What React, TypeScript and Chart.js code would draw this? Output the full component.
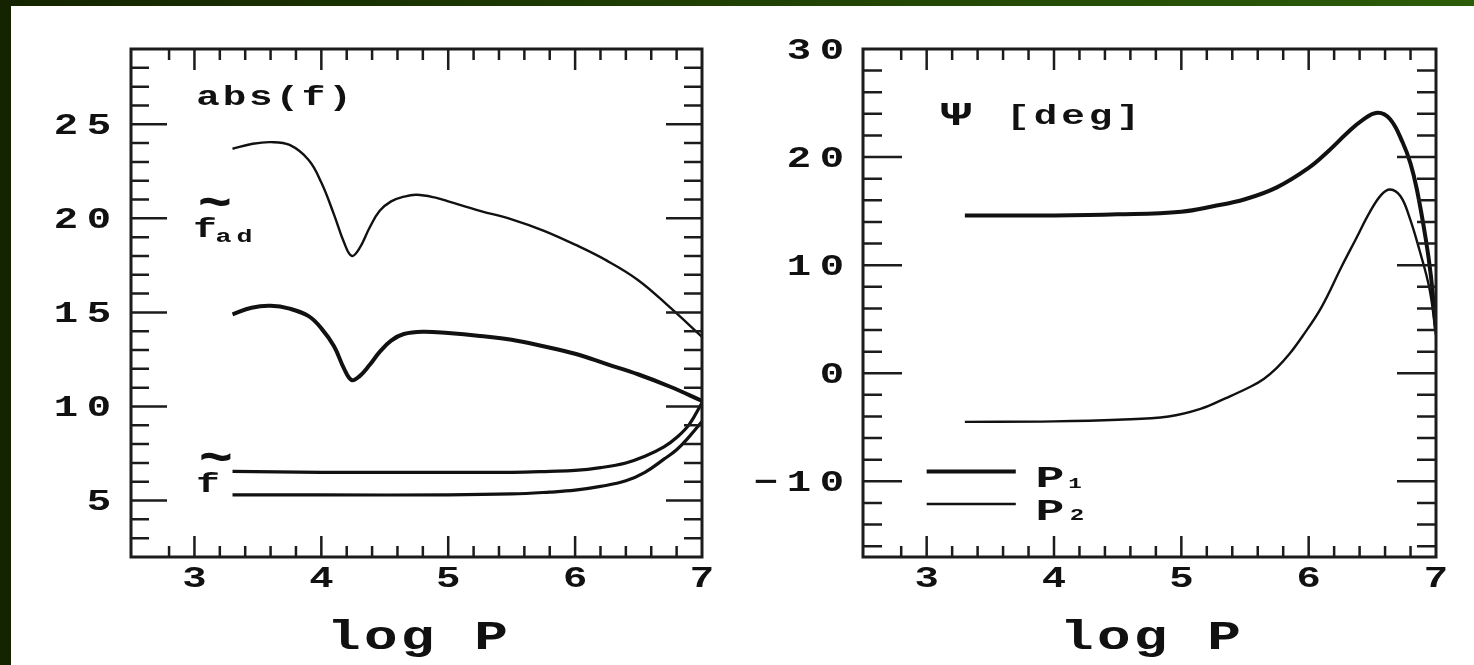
import React, { useEffect, useRef } from "react";
import { Chart, registerables } from "chart.js";
Chart.register(...registerables);

// ---------- Left panel: abs(f) versus log P ----------
const fAdLogP = [3.3, 3.45, 3.6, 3.75, 3.9, 4.0, 4.1, 4.18, 4.24, 4.3, 4.38, 4.46, 4.55, 4.65, 4.75, 4.9, 5.0, 5.25, 5.5, 5.75, 6.0, 6.25, 6.5, 6.75, 7.0];
const fAdValues = [23.7, 23.95, 24.05, 23.9, 23.1, 21.9, 20.2, 18.7, 18.0, 18.4, 19.5, 20.4, 20.9, 21.15, 21.25, 21.1, 20.9, 20.4, 19.95, 19.35, 18.6, 17.75, 16.7, 15.25, 13.7];
const fLogP = [3.3, 3.45, 3.6, 3.75, 3.9, 4.0, 4.1, 4.18, 4.24, 4.3, 4.38, 4.46, 4.55, 4.65, 4.8, 5.0, 5.25, 5.5, 5.75, 6.0, 6.25, 6.5, 6.75, 7.0];
const fValues = [14.9, 15.25, 15.35, 15.2, 14.8, 14.15, 13.2, 12.0, 11.4, 11.6, 12.2, 12.9, 13.5, 13.85, 13.97, 13.9, 13.75, 13.55, 13.2, 12.8, 12.25, 11.7, 11.05, 10.3];
const tildeLogP = [3.3, 4.0, 5.0, 5.5, 5.8, 6.0, 6.2, 6.4, 6.55, 6.7, 6.8, 6.9, 7.0];
const tildeUpper = [6.55, 6.5, 6.5, 6.5, 6.55, 6.6, 6.75, 7.0, 7.35, 7.85, 8.35, 9.05, 10.2];
const tildeLower = [5.3, 5.3, 5.3, 5.35, 5.45, 5.55, 5.75, 6.05, 6.5, 7.2, 7.7, 8.4, 9.2];

// ---------- Right panel: Psi [deg] versus log P ----------
const p1LogP = [3.3, 4.0, 4.5, 5.0, 5.25, 5.5, 5.75, 6.0, 6.15, 6.3, 6.42, 6.54, 6.64, 6.74, 6.8, 6.85, 6.92, 6.96, 7.0];
const p1Values = [14.6, 14.6, 14.7, 14.95, 15.45, 16.1, 17.2, 19.0, 20.5, 22.2, 23.4, 24.1, 23.5, 21.3, 19.4, 17.0, 12.4, 9.0, 4.0];
const p2LogP = [3.3, 4.0, 4.5, 4.9, 5.15, 5.35, 5.55, 5.65, 5.75, 5.85, 5.95, 6.1, 6.26, 6.37, 6.48, 6.57, 6.64, 6.72, 6.79, 6.87, 6.95, 7.0];
const p2Values = [-4.5, -4.45, -4.3, -4.0, -3.3, -2.3, -1.2, -0.5, 0.5, 1.8, 3.4, 6.1, 9.9, 12.4, 14.9, 16.5, 17.0, 16.4, 14.5, 11.4, 7.75, 3.5];

// ---------- Axes ----------
const xTickLabels = [3, 4, 5, 6, 7];
const leftYTickLabels = [5, 10, 15, 20, 25];
const rightYTickLabels = [-10, 0, 10, 20, 30];
const xMin = 2.5, xMax = 7;
const leftYMin = 2, leftYMax = 29;
const rightYMin = -17, rightYMax = 30;

const FONT = '"Liberation Mono", "DejaVu Sans Mono", monospace';
const INK = "#111";

function drawGlyphs(ctx: CanvasRenderingContext2D, text: string, cx: number, baseline: number, fontPx: number, pitch: number, sx: number, weight = "bold", middle = false, sy = 1) {
  ctx.save();
  ctx.font = `${weight} ${fontPx}px ${FONT}`;
  ctx.fillStyle = INK;
  ctx.textAlign = "center";
  ctx.textBaseline = middle ? "middle" : "alphabetic";
  const chars = Array.from(text);
  const n = chars.length;
  chars.forEach((ch, i) => {
    const x = cx + (i - (n - 1) / 2) * pitch;
    ctx.save();
    ctx.translate(x, baseline);
    ctx.scale(sx, sy);
    ctx.fillText(ch, 0, 0);
    ctx.restore();
  });
  ctx.restore();
}

function fmt(v: number) {
  return v < 0 ? "\u2212" + Math.abs(v) : String(v);
}

type PanelCfg = {
  offsetX: number;
  yTicks: number[];
  yMinorStep: number;
  yMajorLen: number;
  yMinorLen: number;
  labelRight: number;
  annotate: (ctx: CanvasRenderingContext2D, chart: any, ox: number) => void;
};

function framePlugin(cfg: PanelCfg) {
  return {
    id: "frame",
    afterDraw(chart: any) {
      const ctx: CanvasRenderingContext2D = chart.ctx;
      const { left, right, top, bottom } = chart.chartArea;
      const xs = chart.scales.x;
      const ys = chart.scales.y;
      ctx.save();
      ctx.strokeStyle = "#1c1c1c";
      ctx.lineCap = "butt";
      ctx.lineWidth = 2.5;
      const xStep = 0.2;
      for (let k = Math.round(xMin / xStep) + 1; k * xStep < xMax - 1e-6; k++) {
        const v = k * xStep;
        const major = Math.abs(v - Math.round(v)) < 1e-6;
        const px = xs.getPixelForValue(v);
        const len = major ? 21 : 11;
        ctx.beginPath();
        ctx.moveTo(px, top);
        ctx.lineTo(px, top + len);
        ctx.moveTo(px, bottom);
        ctx.lineTo(px, bottom - len);
        ctx.stroke();
      }
      const yMin = ys.min, yMax = ys.max;
      for (let k = Math.ceil(yMin / cfg.yMinorStep); k * cfg.yMinorStep < yMax; k++) {
        const v = k * cfg.yMinorStep;
        if (v <= yMin) continue;
        const major = cfg.yTicks.includes(v);
        const py = ys.getPixelForValue(v);
        const len = major ? cfg.yMajorLen : cfg.yMinorLen;
        ctx.beginPath();
        ctx.moveTo(left, py);
        ctx.lineTo(left + len, py);
        ctx.moveTo(right, py);
        ctx.lineTo(right - len, py);
        ctx.stroke();
      }
      ctx.lineWidth = 3;
      ctx.strokeRect(left, top, right - left, bottom - top);
      ctx.restore();

      xTickLabels.forEach((v) => {
        drawGlyphs(ctx, String(v), xs.getPixelForValue(v), 587, 29, 33, 1.4);
      });
      cfg.yTicks.forEach((v) => {
        const s = fmt(v);
        const n = Array.from(s).length;
        const cx = cfg.labelRight - cfg.offsetX - 10 - ((n - 1) / 2) * 33;
        drawGlyphs(ctx, s, cx, ys.getPixelForValue(v) + 9.5, 29, 33, 1.4);
      });
      drawGlyphs(ctx, "log P", (left + right) / 2 + 1, 649, 40, 36.8, 1.4);
      cfg.annotate(ctx, chart, cfg.offsetX);
    },
  };
}

function lineDs(xv: number[], yv: number[], width: number) {
  return {
    data: xv.map((x, i) => ({ x, y: yv[i] })),
    borderColor: INK,
    borderWidth: width,
    pointRadius: 0,
    fill: false,
    tension: 0.4,
    cubicInterpolationMode: "default" as const,
  };
}

function baseOptions(padLeft: number, padRight: number, yMin: number, yMax: number) {
  return {
    responsive: false,
    animation: false as const,
    devicePixelRatio: 1,
    events: [] as any[],
    layout: { padding: { left: padLeft, right: padRight, top: 49, bottom: 108 } },
    plugins: { legend: { display: false }, tooltip: { enabled: false } },
    scales: {
      x: { type: "linear" as const, min: xMin, max: xMax, display: false },
      y: { type: "linear" as const, min: yMin, max: yMax, display: false },
    },
  };
}

export default function App() {
  const leftRef = useRef<HTMLCanvasElement>(null);
  const rightRef = useRef<HTMLCanvasElement>(null);

  useEffect(() => {
    document.body.style.margin = "0";
    const leftCfg: PanelCfg = {
      offsetX: 0,
      yTicks: leftYTickLabels,
      yMinorStep: 1,
      yMajorLen: 36,
      yMinorLen: 18,
      labelRight: 109,
      annotate: (ctx, chart, ox) => {
        drawGlyphs(ctx, "abs(f)", 274 - ox, 105, 28, 26.4, 1.4);
        // f~ad
        drawGlyphs(ctx, "~", 215 - ox, 206, 26, 20, 2.2, "bold", true, 2.0);
        drawGlyphs(ctx, "f", 205 - ox, 237, 28, 20, 1.4);
        drawGlyphs(ctx, "ad", 234 - ox, 242, 19, 21, 1.4);
        // f~
        drawGlyphs(ctx, "~", 216 - ox, 461, 26, 20, 2.2, "bold", true, 2.0);
        drawGlyphs(ctx, "f", 208 - ox, 492, 28, 20, 1.4);
      },
    };
    const rightCfg: PanelCfg = {
      offsetX: 737,
      yTicks: rightYTickLabels,
      yMinorStep: 2,
      yMajorLen: 39,
      yMinorLen: 19,
      labelRight: 842,
      annotate: (ctx, chart, ox) => {
        drawGlyphs(ctx, "\u03A8", 956 - ox, 125, 33, 20, 1.6);
        drawGlyphs(ctx, "[deg]", 1073 - ox, 124, 28, 27.5, 1.4);
        const xs = chart.scales.x;
        const ys = chart.scales.y;
        const x0 = xs.getPixelForValue(3.0);
        const x1 = xs.getPixelForValue(3.7);
        ctx.save();
        ctx.strokeStyle = INK;
        ctx.lineWidth = 4;
        ctx.beginPath();
        ctx.moveTo(x0, ys.getPixelForValue(-9.1));
        ctx.lineTo(x1, ys.getPixelForValue(-9.1));
        ctx.stroke();
        ctx.lineWidth = 2.6;
        ctx.beginPath();
        ctx.moveTo(x0, ys.getPixelForValue(-12.1));
        ctx.lineTo(x1, ys.getPixelForValue(-12.1));
        ctx.stroke();
        ctx.restore();
        drawGlyphs(ctx, "P", 1050 - ox, 487, 30, 20, 1.6);
        drawGlyphs(ctx, "1", 1075 - ox, 488, 15, 20, 1.5);
        drawGlyphs(ctx, "P", 1050 - ox, 520, 30, 20, 1.6);
        drawGlyphs(ctx, "2", 1077 - ox, 520, 16, 20, 1.5);
      },
    };

    const c1 = new Chart(leftRef.current as HTMLCanvasElement, {
      type: "line",
      data: {
        datasets: [
          lineDs(fAdLogP, fAdValues, 2.4),
          lineDs(fLogP, fValues, 4),
          lineDs(tildeLogP, tildeUpper, 3.2),
          lineDs(tildeLogP, tildeLower, 3.2),
        ],
      },
      options: baseOptions(131, 35, leftYMin, leftYMax) as any,
      plugins: [framePlugin(leftCfg)],
    });
    const c2 = new Chart(rightRef.current as HTMLCanvasElement, {
      type: "line",
      data: {
        datasets: [lineDs(p1LogP, p1Values, 4), lineDs(p2LogP, p2Values, 2.4)],
      },
      options: baseOptions(126, 38, rightYMin, rightYMax) as any,
      plugins: [framePlugin(rightCfg)],
    });
    return () => {
      c1.destroy();
      c2.destroy();
    };
  }, []);

  return (
    <div style={{ position: "relative", width: 1474, height: 665, background: "#ffffff", overflow: "hidden" }}>
      <canvas ref={leftRef} width={737} height={665} style={{ position: "absolute", left: 0, top: 0 }} />
      <canvas ref={rightRef} width={737} height={665} style={{ position: "absolute", left: 737, top: 0 }} />
      <div style={{ position: "absolute", left: 0, top: 0, width: 1474, height: 6, background: "linear-gradient(90deg, #142400, #2c5c08)" }} />
      <div style={{ position: "absolute", left: 0, top: 0, width: 11, height: 665, background: "#142400" }} />
    </div>
  );
}
